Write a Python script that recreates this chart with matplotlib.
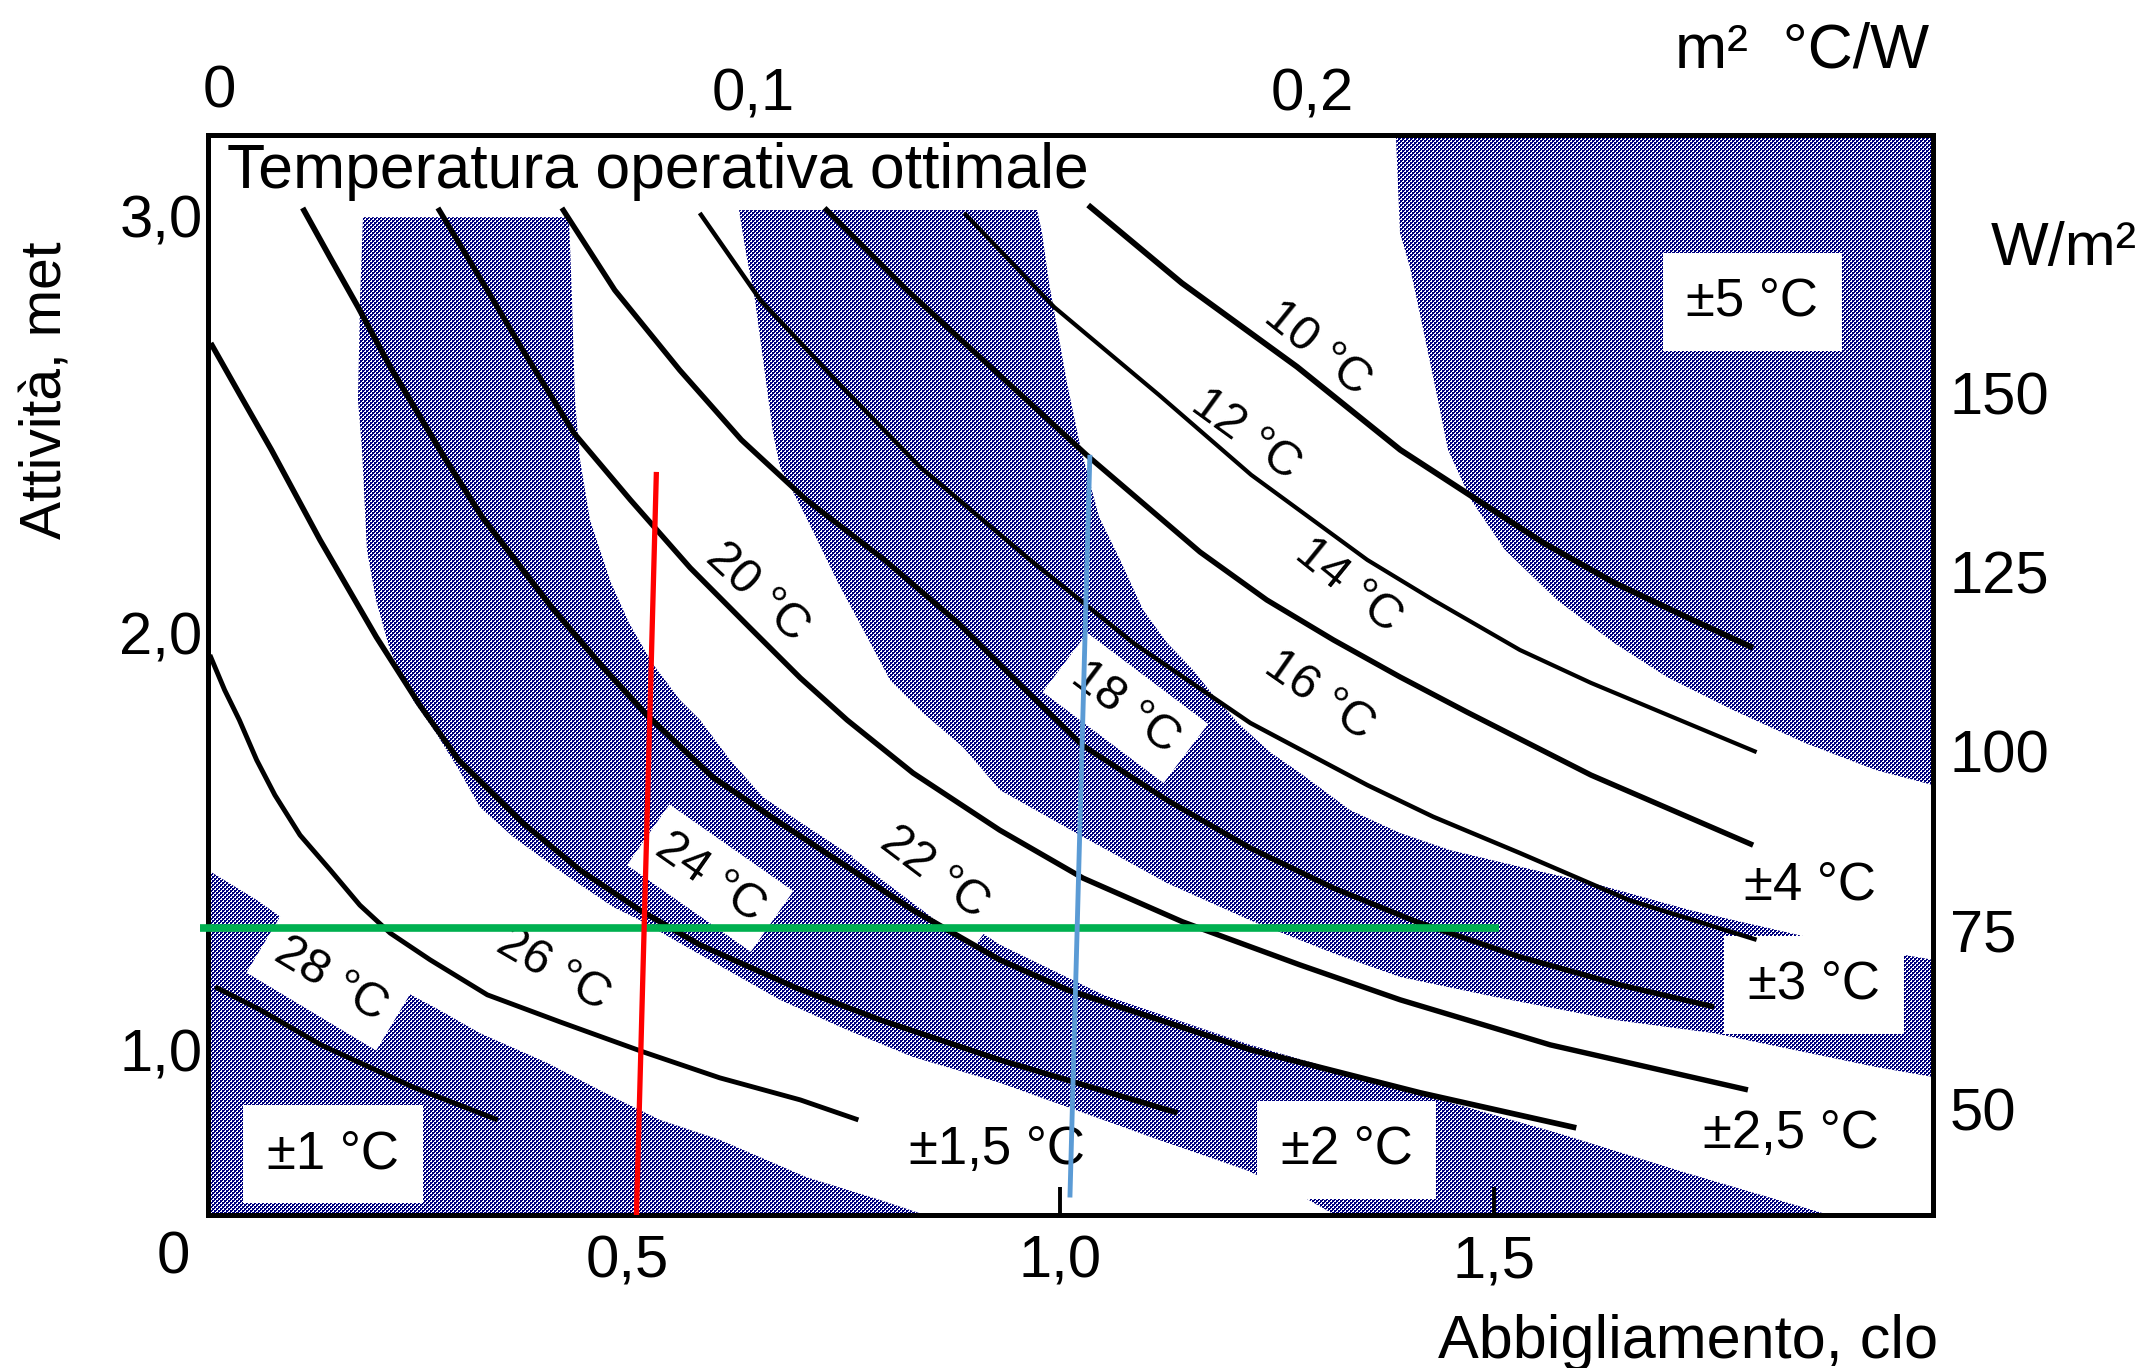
import numpy as np
import matplotlib
matplotlib.use("Agg")
import matplotlib.pyplot as plt
from matplotlib.path import Path

plt.rcParams['font.family'] = ['Liberation Sans', 'DejaVu Sans']

#------------------------------------------------------------------------------
# Axis ranges: clothing (clo) and activity (met)
#------------------------------------------------------------------------------
XMIN, XMAX = 0.01684, 2.00646
YMIN, YMAX = 0.605, 3.195

x_ticks = [0.5, 1.0, 1.5]
x_labels = ['0,5', '1,0', '1,5']
y_ticks = [1.0, 2.0, 3.0]
y_labels = ['1,0', '2,0', '3,0']
top_ticks = [0.1, 0.2]            # m2 °C/W
top_labels = ['0,1', '0,2']
w_ticks = [50, 75, 100, 125, 150]  # W/m2

#------------------------------------------------------------------------------
# Optimal operative temperature curves (clo, met)
#------------------------------------------------------------------------------
t10_clo = [1.032, 1.140, 1.273, 1.392, 1.557, 1.639, 1.722, 1.799]
t10_met = [3.027, 2.840, 2.639, 2.440, 2.217, 2.121, 2.039, 1.965]

t12_clo = [0.889, 0.993, 1.114, 1.220, 1.354, 1.430, 1.530, 1.612, 1.803]
t12_met = [3.008, 2.782, 2.571, 2.380, 2.176, 2.080, 1.960, 1.881, 1.715]

t14_clo = [0.728, 0.823, 0.955, 1.030, 1.161, 1.238, 1.315, 1.392, 1.469, 1.612, 1.799]
t14_met = [3.020, 2.823, 2.571, 2.428, 2.195, 2.080, 1.984, 1.895, 1.811, 1.660, 1.492]

t16_clo = [0.584, 0.654, 0.744, 0.838, 0.965, 1.084, 1.219, 1.354, 1.430, 1.530, 1.656, 1.803]
t16_met = [3.008, 2.799, 2.600, 2.399, 2.176, 1.977, 1.785, 1.636, 1.560, 1.473, 1.360, 1.265]

t18_clo = [0.425, 0.486, 0.561, 0.632, 0.707, 0.797, 0.882, 0.954, 1.025, 1.123, 1.219,
           1.315, 1.411, 1.530, 1.645, 1.754]
t18_met = [3.020, 2.823, 2.631, 2.464, 2.320, 2.176, 2.025, 1.876, 1.732, 1.600, 1.485,
           1.389, 1.308, 1.224, 1.157, 1.104]

t20_clo = [0.282, 0.339, 0.380, 0.439, 0.504, 0.573, 0.642, 0.700, 0.754, 0.830, 0.930,
           1.026, 1.141, 1.276, 1.392, 1.565, 1.793]
t20_met = [3.020, 2.823, 2.679, 2.480, 2.320, 2.157, 2.013, 1.893, 1.792, 1.665, 1.528,
           1.413, 1.308, 1.205, 1.121, 1.013, 0.905]

t22_clo = [0.126, 0.158, 0.190, 0.227, 0.290, 0.333, 0.413, 0.473, 0.523, 0.599, 0.677,
           0.754, 0.830, 0.930, 1.008, 1.220, 1.415, 1.595]
t22_met = [3.020, 2.900, 2.782, 2.639, 2.420, 2.279, 2.063, 1.917, 1.804, 1.655, 1.545,
           1.440, 1.336, 1.217, 1.145, 1.001, 0.898, 0.814]

t24_clo = [0.020, 0.054, 0.090, 0.146, 0.211, 0.261, 0.306, 0.380, 0.446, 0.515, 0.584,
           0.696, 0.792, 0.930, 1.046, 1.135]
t24_met = [2.696, 2.571, 2.440, 2.224, 1.991, 1.828, 1.696, 1.545, 1.432, 1.336, 1.253,
           1.149, 1.073, 0.977, 0.905, 0.850]

t26_clo = [0.019, 0.036, 0.053, 0.073, 0.094, 0.123, 0.158, 0.192, 0.227, 0.273, 0.339,
           0.423, 0.519, 0.607, 0.700, 0.767]
t26_met = [1.948, 1.864, 1.792, 1.696, 1.612, 1.516, 1.432, 1.348, 1.281, 1.217, 1.133,
           1.068, 0.996, 0.934, 0.881, 0.833]

t28_clo = [0.025, 0.077, 0.147, 0.253, 0.351]
t28_met = [1.152, 1.097, 1.013, 0.912, 0.833]

#------------------------------------------------------------------------------
# Tolerance zones (shaded): boundaries in (clo, met)
#------------------------------------------------------------------------------
# +-1 °C, bottom left
za_clo = [0.0168, 0.0733, 0.1576, 0.2798, 0.3305, 0.4078, 0.4839, 0.5381, 0.6074,
          0.7066, 0.7920, 0.8439]
za_met = [1.432, 1.360, 1.236, 1.101, 1.041, 0.970, 0.888, 0.833, 0.785, 0.696, 0.641,
          0.605]

# +-2 °C band: upper/right edge and lower/left edge, both from top to bottom
zb_up_clo = [0.4332, 0.4367, 0.4401, 0.4459, 0.4574, 0.4816, 0.5024, 0.5289, 0.5612,
             0.5844, 0.6190, 0.6570, 0.6963, 0.7539, 0.8116, 0.8692, 0.9304, 1.0492,
             1.2187, 1.3917, 1.4471, 1.5728, 1.7216, 1.8866]
zb_up_met = [2.998, 2.799, 2.559, 2.416, 2.272, 2.121, 2.025, 1.929, 1.840, 1.792,
             1.696, 1.607, 1.552, 1.473, 1.408, 1.336, 1.253, 1.133, 1.013, 0.910,
             0.876, 0.802, 0.706, 0.605]
zb_lo_clo = [0.1956, 0.1922, 0.1899, 0.1945, 0.2002, 0.2106, 0.2268, 0.2533, 0.2798,
             0.3064, 0.3306, 0.3687, 0.4263, 0.4840, 0.5151, 0.5612, 0.6766, 0.7539,
             0.8300, 0.9304, 1.1138, 1.2141, 1.2764, 1.3168]
zb_lo_met = [2.998, 2.799, 2.559, 2.440, 2.200, 2.080, 1.960, 1.840, 1.761, 1.672,
             1.583, 1.512, 1.425, 1.344, 1.312, 1.257, 1.121, 1.049, 0.984, 0.922,
             0.785, 0.713, 0.653, 0.605]

# +-3 °C band: upper edge left -> right spine, lower edge right spine -> top
zd_up_clo = [0.9731, 0.9788, 0.9869, 0.9973, 1.0076, 1.0238, 1.0446, 1.0688, 1.0953,
             1.1230, 1.1530, 1.1807, 1.2072, 1.2418, 1.2764, 1.3341, 1.3917, 1.4494,
             1.5301, 1.6224, 1.7262, 1.8923, 2.0065]
zd_up_met = [3.015, 2.960, 2.840, 2.720, 2.600, 2.440, 2.279, 2.176, 2.056, 1.977,
             1.912, 1.840, 1.780, 1.715, 1.665, 1.576, 1.521, 1.480, 1.440, 1.396,
             1.336, 1.257, 1.217]
zd_lo_clo = [2.0065, 1.9407, 1.7539, 1.6386, 1.5014, 1.3917, 1.3145, 1.2187, 1.1230,
             1.0261, 0.9304, 0.8877, 0.8416, 0.8035, 0.7851, 0.7436, 0.7066, 0.6766,
             0.6686, 0.6582, 0.6478, 0.6374, 0.6293]
zd_lo_met = [0.936, 0.960, 1.041, 1.073, 1.128, 1.176, 1.233, 1.312, 1.401, 1.512,
             1.624, 1.727, 1.809, 1.888, 1.960, 2.121, 2.279, 2.399, 2.480, 2.639,
             2.799, 2.912, 3.015]

# +-5 °C, top right
zf_clo = [1.3870, 1.3917, 1.4032, 1.4194, 1.4355, 1.4471, 1.4736, 1.5128, 1.5728,
          1.6386, 1.6997, 1.7758, 1.8589, 1.9407, 2.0065]
zf_met = [3.195, 2.960, 2.878, 2.720, 2.559, 2.440, 2.320, 2.200, 2.080, 1.977, 1.895,
          1.816, 1.737, 1.672, 1.636]

#------------------------------------------------------------------------------
# Labels
#------------------------------------------------------------------------------
tlab_text = ['10 °C', '12 °C', '14 °C', '16 °C', '18 °C', '20 °C', '22 °C', '24 °C',
             '26 °C', '28 °C']
tlab_clo = [1.296, 1.214, 1.332, 1.299, 1.075, 0.650, 0.855, 0.596, 0.415, 0.158]
tlab_met = [2.682, 2.476, 2.113, 1.850, 1.821, 2.097, 1.425, 1.413, 1.193, 1.169]
tlab_rot = [-39, -36, -39, -35, -37, -43, -37, -35, -30, -31]
tlab_box = [False, False, False, False, True, False, True, True, False, True]

zlab_text = ['±5 °C', '±4 °C', '±3 °C', '±2,5 °C', '±2 °C', '±1,5 °C', '±1 °C']
zlab_clo = [1.798, 1.865, 1.869, 1.843, 1.330, 0.927, 0.161]
zlab_met = [2.795, 1.394, 1.157, 0.799, 0.761, 0.761, 0.751]
zlab_box = [True, False, True, False, True, False, True]

# reference lines
green_clo = [0.008, 1.506]
green_met = [1.293, 1.293]
red_clo = [0.534, 0.511]
red_met = [2.387, 0.605]
blue_clo = [1.034, 1.011]
blue_met = [2.428, 0.647]

#------------------------------------------------------------------------------
# Figure
#------------------------------------------------------------------------------
W_PX, H_PX = 2147, 1368
fig = plt.figure(figsize=(W_PX / 100, H_PX / 100), dpi=100, facecolor='white')
ax = fig.add_axes([208 / W_PX, 153 / H_PX, 1725 / W_PX, 1080 / H_PX])
ax.set_facecolor('none')
ax.set_xlim(XMIN, XMAX)
ax.set_ylim(YMIN, YMAX)

# shaded zones: a navy dot screen clipped to the zone outlines
def closed(pts):
    pts = np.asarray(pts, dtype=float)
    return Path(np.vstack([pts, pts[:1]]), closed=True)

lo, hi = YMIN - 0.1, YMAX + 0.1
left, right = XMIN - 0.1, XMAX + 0.1

poly_a = list(zip(za_clo, za_met)) + [(za_clo[-1], lo), (left, lo), (left, za_met[0])]
poly_b = (list(zip(zb_up_clo, zb_up_met)) + [(zb_up_clo[-1], lo), (zb_lo_clo[-1], lo)]
          + list(zip(zb_lo_clo, zb_lo_met))[::-1])
poly_d = (list(zip(zd_up_clo, zd_up_met)) + [(right, zd_up_met[-1]), (right, zd_lo_met[0])]
          + list(zip(zd_lo_clo, zd_lo_met)))
poly_f = [(zf_clo[0], hi)] + list(zip(zf_clo, zf_met)) + [(right, zf_met[-1]), (right, hi)]

zones = Path.make_compound_path(*[closed(p) for p in (poly_a, poly_b, poly_d, poly_f)])

# checkerboard of 2px cells plus one extra dot in every white cell
yy, xx = np.mgrid[0:H_PX, 0:W_PX]
dots = (((xx // 2 + yy // 2) % 2) == 0) | ((xx % 2 == 0) & (yy % 2 == 0))
rgba = np.zeros((H_PX, W_PX, 4))
rgba[dots] = (0.0, 0.0, 0.5, 1.0)
img = fig.figimage(rgba, xo=0, yo=0, origin='upper', zorder=-1)
img.set_interpolation('nearest')
img.set_clip_path(zones, ax.transData)
img.set_clip_box(ax.bbox)

# temperature curves
curves = [(t10_clo, t10_met, 4.2), (t12_clo, t12_met, 3.0), (t14_clo, t14_met, 3.9),
          (t16_clo, t16_met, 3.2), (t18_clo, t18_met, 3.9), (t20_clo, t20_met, 3.9),
          (t22_clo, t22_met, 4.1), (t24_clo, t24_met, 4.0), (t26_clo, t26_met, 3.5),
          (t28_clo, t28_met, 3.6)]
for c, m, lw in curves:
    ax.plot(c, m, color='black', lw=lw, solid_capstyle='butt',
            solid_joinstyle='round', zorder=2)

white_box = dict(boxstyle='square,pad=0.3', fc='white', ec='none')

for txt, c, m, rot, box in zip(tlab_text, tlab_clo, tlab_met, tlab_rot, tlab_box):
    ax.text(c, m, txt, rotation=rot, rotation_mode='anchor', ha='center', va='center',
            fontsize=35, zorder=1.5, bbox=white_box if box else None)

for txt, c, m, box in zip(zlab_text, zlab_clo, zlab_met, zlab_box):
    ax.text(c, m, txt, ha='center', va='center', fontsize=38, zorder=1.5,
            bbox=dict(boxstyle='square,pad=0.45', fc='white', ec='none') if box else None)

# coloured reference lines
ax.plot(green_clo, green_met, color='#00b050', lw=5.5, solid_capstyle='butt',
        zorder=4, clip_on=False)
ax.plot(red_clo, red_met, color='#ff0000', lw=3.8, solid_capstyle='butt', zorder=4)
ax.plot(blue_clo, blue_met, color='#5b9bd5', lw=3.5, solid_capstyle='butt', zorder=4)

# axes, ticks
for s in ax.spines.values():
    s.set_linewidth(3.6)

ax.set_xticks(x_ticks, labels=x_labels)
ax.set_yticks(y_ticks, labels=y_labels)
ax.tick_params(axis='x', direction='in', length=20, width=2.8, pad=14, labelsize=43)
ax.tick_params(axis='y', length=0, pad=4, labelsize=43)
ax.xaxis.get_major_ticks()[0].tick1line.set_visible(False)

secx = ax.secondary_xaxis('top', functions=(lambda c: c * 0.155, lambda r: r / 0.155))
secx.set_ticks(top_ticks, labels=top_labels)
secx.tick_params(length=0, pad=9, labelsize=43)
for s in secx.spines.values():
    s.set_visible(False)

secy = ax.secondary_yaxis('right', functions=(lambda m: m * 58.2, lambda w: w / 58.2))
secy.set_ticks(w_ticks, labels=[str(v) for v in w_ticks])
secy.tick_params(length=0, pad=12, labelsize=43)
for s in secy.spines.values():
    s.set_visible(False)

# texts around the frame
fig.text(227 / W_PX, 1 - 188 / H_PX, 'Temperatura operativa ottimale', fontsize=45,
         ha='left', va='baseline')
fig.text(47 / W_PX, 1 - 390 / H_PX, 'Attività, met', fontsize=41, rotation=90,
         ha='center', va='center')
fig.text(1938 / W_PX, 1 - 1358 / H_PX, 'Abbigliamento, clo', fontsize=44,
         ha='right', va='baseline')
fig.text(1929 / W_PX, 1 - 67 / H_PX, 'm²  °C/W', fontsize=45, ha='right', va='baseline')
fig.text(1991 / W_PX, 1 - 265 / H_PX, 'W/m²', fontsize=44, ha='left', va='baseline')
fig.text(219 / W_PX, 1 - 108 / H_PX, '0', fontsize=43, ha='center', va='baseline')
fig.text(173 / W_PX, 1 - 1273 / H_PX, '0', fontsize=43, ha='center', va='baseline')

fig.savefig('out.png', dpi=100)
